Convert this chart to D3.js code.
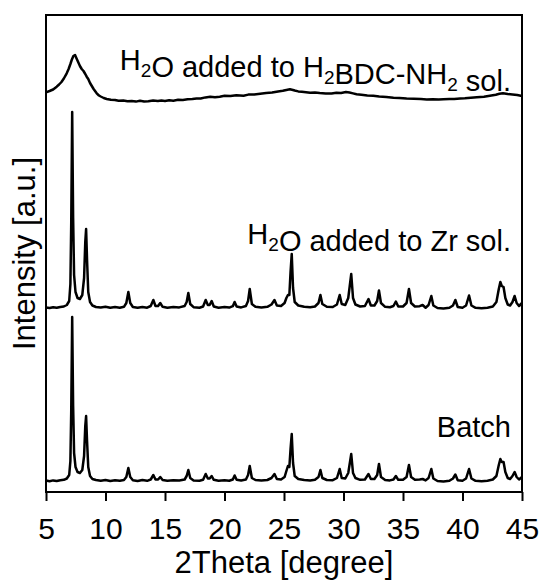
<html>
<head>
  <script src="https://d3js.org/d3.v7.min.js"></script>
  <title>XRD patterns</title>
  <style>
    body { margin: 0; background: #fff; }
    text { font-family: "Liberation Sans", Arial, sans-serif; fill: #000; }
  </style>
</head>
<body>
  <div id="container"></div>
  <script>
    // tick values on the 2Theta axis
    var xTicks = [5, 10, 15, 20, 25, 30, 35, 40, 45];

    // trace labels, bottom to top
    var labels = ["Batch", "H2O added to Zr sol.", "H2O added to H2BDC-NH2 sol."];

    // vertical offset of each trace (a.u.), bottom to top
    var offsets = [11, 184, 390];

    // Batch: [2Theta, intensity]
    var batch = [[5.0,0.5],[5.3,-0.3],[5.6,0.6],[5.9,0],[6.2,0.8],[6.5,1.2],[6.75,2.5],[6.95,6],[7.05,20],[7.12,70],[7.2,164],[7.28,75],[7.36,28],[7.48,14],[7.65,9],[7.85,8],[8.05,11],[8.2,25],[8.3,55],[8.37,65],[8.45,40],[8.55,14],[8.7,5],[8.9,2],[9.2,1],[9.6,0.3],[10.0,1],[10.4,0],[10.8,0.8],[11.2,0.2],[11.55,1],[11.75,4],[11.92,13],[12.08,4],[12.3,0.8],[12.7,0],[13.1,0.9],[13.5,0.2],[13.8,1.5],[14.02,6],[14.2,1.5],[14.42,1.5],[14.6,4],[14.8,1],[15.2,0.2],[15.7,0.8],[16.2,0.5],[16.65,1.5],[16.82,5],[16.96,11],[17.12,3],[17.4,0.6],[17.9,0.2],[18.2,1.2],[18.42,7],[18.6,2.5],[18.75,2.5],[18.92,5],[19.1,1.2],[19.5,0.2],[20.0,0.8],[20.4,0.3],[20.7,1.5],[20.85,5.5],[21.02,1.2],[21.4,0.5],[21.8,1.5],[21.98,6],[22.12,15],[22.3,3],[22.6,1],[23.1,0.4],[23.6,1],[23.95,3],[24.2,7],[24.4,2],[24.75,1.5],[25.05,4],[25.2,10],[25.33,15],[25.45,14],[25.55,32],[25.65,47],[25.76,18],[25.9,5],[26.2,2],[26.7,1],[27.2,0.6],[27.6,1.2],[27.9,4],[28.06,11],[28.22,3],[28.6,1],[29.1,0.8],[29.45,3],[29.68,12],[29.85,3],[30.15,2.5],[30.4,8],[30.65,27],[30.8,8],[31.0,3],[31.4,1.2],[31.8,1.5],[32.1,7],[32.3,2],[32.6,2],[32.83,6],[32.98,17],[33.15,4],[33.5,1],[33.9,0.6],[34.2,1.5],[34.4,5],[34.6,1.2],[35.0,1.2],[35.3,4],[35.5,16],[35.68,4],[36.0,1.2],[36.4,1.5],[36.65,2],[36.9,0.6],[37.15,3],[37.38,12],[37.55,2.5],[37.9,0],[38.4,-0.5],[38.9,0.2],[39.2,2.5],[39.4,6.5],[39.6,0.8],[40.0,0.3],[40.3,2.5],[40.55,12],[40.75,2.5],[41.1,0.2],[41.6,-0.3],[42.1,0.3],[42.55,1.5],[42.85,5],[43.05,16],[43.18,22],[43.3,19],[43.45,19],[43.6,9],[43.8,3],[44.0,2],[44.2,5],[44.38,9],[44.55,4],[44.75,1.5],[45.0,4]];

    // H2O added to Zr sol.
    var zrSol = [[5.0,0.5],[5.3,0],[5.6,0.8],[5.9,0.2],[6.2,1],[6.5,1.5],[6.75,3],[6.95,7],[7.05,24],[7.12,85],[7.2,196],[7.28,90],[7.36,33],[7.48,16],[7.65,10],[7.85,9],[8.05,13],[8.2,30],[8.3,66],[8.37,79],[8.45,48],[8.55,16],[8.7,6],[8.9,2.5],[9.2,1],[9.6,0.4],[10.0,1.2],[10.4,0.2],[10.8,1],[11.2,0.3],[11.55,1.2],[11.75,5],[11.92,16],[12.08,5],[12.3,1],[12.7,0.2],[13.1,1],[13.5,0.3],[13.8,2],[14.02,8],[14.2,2],[14.42,2],[14.6,5],[14.8,1.2],[15.2,0.3],[15.7,1],[16.2,0.6],[16.65,2],[16.82,6],[16.96,15],[17.12,4],[17.4,0.8],[17.9,0.3],[18.2,1.5],[18.42,8],[18.6,3],[18.75,3],[18.92,7],[19.1,1.5],[19.5,0.3],[20.0,1],[20.4,0.4],[20.7,1.8],[20.85,6],[21.02,1.5],[21.4,0.6],[21.8,2],[21.98,7],[22.12,19],[22.3,4],[22.6,1.2],[23.1,0.5],[23.6,1.2],[23.95,3.5],[24.2,8],[24.4,2.5],[24.75,2],[25.05,5],[25.2,10],[25.33,13],[25.45,13],[25.55,36],[25.65,54],[25.76,20],[25.9,6],[26.2,2.5],[26.7,1.2],[27.2,0.8],[27.6,1.5],[27.9,5],[28.06,13],[28.22,4],[28.6,1.2],[29.1,1],[29.45,3.5],[29.68,13],[29.85,4],[30.15,3],[30.4,10],[30.65,34],[30.8,10],[31.0,3.5],[31.4,1.5],[31.8,2],[32.1,9],[32.3,2.5],[32.6,2.5],[32.83,7],[32.98,17.5],[33.15,5],[33.5,1.2],[33.9,0.8],[34.2,2],[34.4,6.5],[34.6,1.5],[35.0,1.5],[35.3,5],[35.5,19],[35.68,5],[36.0,1.5],[36.4,1.8],[36.65,3],[36.9,0.3],[37.15,3],[37.38,12],[37.55,2.5],[37.9,0],[38.4,-0.6],[38.9,0.2],[39.2,2.5],[39.4,8],[39.6,1],[40.0,0.3],[40.3,2.5],[40.55,12.5],[40.75,2.5],[41.1,0.2],[41.6,-0.3],[42.1,0.3],[42.55,1.5],[42.85,6],[43.05,19],[43.18,26],[43.3,22],[43.45,21],[43.6,10],[43.8,3.5],[44.0,2.5],[44.2,6],[44.38,12],[44.55,5],[44.75,2],[45.0,5]];

    // H2O added to H2BDC-NH2 sol.
    var bdcSol = [[5.0,9.7],[5.3,11],[5.6,12.5],[5.9,15.3],[6.1,17.5],[6.3,20],[6.5,23.5],[6.74,28.7],[6.9,33],[7.05,38],[7.16,42],[7.3,46],[7.44,47],[7.55,44],[7.7,40],[7.85,36],[8.0,33],[8.15,31],[8.3,28],[8.42,25.3],[8.55,23],[8.7,19],[8.85,16],[9.0,13],[9.26,8.7],[9.45,6.5],[9.6,5.5],[9.85,4],[10.1,3],[10.45,2.2],[10.8,2],[11.1,1.2],[11.5,1.5],[11.85,0.8],[12.2,1],[12.55,0.4],[12.9,1.3],[13.25,0.6],[13.6,0.7],[14.0,1.4],[14.4,0.9],[14.7,1.5],[15.0,1],[15.35,1.8],[15.7,1.3],[16.1,2.2],[16.5,2],[16.9,2.8],[17.3,3],[17.65,3.6],[18.0,3.5],[18.4,4.6],[18.8,5.3],[19.2,4.8],[19.6,5.3],[20.0,6.2],[20.5,6],[21.0,6.8],[21.6,6.3],[22.0,7.4],[22.5,7.5],[23.0,8.2],[23.5,9],[24.0,9.4],[24.5,10.5],[24.9,11.2],[25.2,12],[25.5,12.7],[25.75,12],[25.9,11.5],[26.2,10.6],[26.5,10.2],[26.85,9.8],[27.2,9.3],[27.6,9.6],[28.0,9],[28.5,8.6],[29.0,8.5],[29.4,9.2],[29.8,9],[30.2,10],[30.5,9.5],[30.8,8.6],[31.1,7.7],[31.5,7.2],[32.0,6.5],[32.5,6.2],[33.0,5.5],[33.6,5],[34.2,4.3],[34.7,4.1],[35.3,3.5],[35.9,3.3],[36.5,3],[37.0,2.6],[37.5,2.7],[38.0,2.4],[38.4,2.7],[38.9,3.1],[39.3,3],[39.8,3.6],[40.2,3.7],[40.7,4.2],[41.2,4.7],[41.8,5.2],[42.3,6.2],[42.8,7.2],[43.1,8.2],[43.4,8.7],[43.8,8],[44.2,7.5],[44.6,7],[45.0,6]];

    var traces = [batch, zrSol, bdcSol];

    var width = 542, height = 581;
    var margin = {left: 46, right: 20, top: 15, bottom: 89};

    var svg = d3.select("#container")
      .append("svg")
      .attr("width", width)
      .attr("height", height);

    var x = d3.scaleLinear()
      .domain([5, 45])
      .range([margin.left, width - margin.right]);
    var y = d3.scaleLinear()
      .domain([0, 477])
      .range([height - margin.bottom, margin.top]);

    var line = d3.line()
      .x(function(d){ return x(d[0]); })
      .y(function(d){ return y(d[1]); });

    // traces
    traces.forEach(function(t, i){
      svg.append("path")
        .datum(t.map(function(d){ return [d[0], d[1] + offsets[i]]; }))
        .attr("d", line)
        .attr("fill", "none")
        .attr("stroke", "#000")
        .attr("stroke-width", 2.5)
        .attr("stroke-linejoin", "round");
    });

    // frame
    svg.append("rect")
      .attr("x", x(5))
      .attr("y", y(477))
      .attr("width", x(45) - x(5))
      .attr("height", y(0) - y(477))
      .attr("fill", "none")
      .attr("stroke", "#000")
      .attr("stroke-width", 2);

    // bottom axis
    var xAxis = svg.append("g")
      .attr("transform", "translate(0," + y(0) + ")")
      .call(d3.axisBottom(x).tickValues(xTicks).tickSize(9).tickPadding(17).tickFormat(d3.format("d")));
    xAxis.select(".domain").remove();
    xAxis.selectAll("line").attr("stroke-width", 2);
    xAxis.selectAll("text")
      .style("font-family", "'Liberation Sans', Arial, sans-serif")
      .style("font-size", "30px");

    svg.append("text")
      .attr("x", (x(5) + x(45)) / 2)
      .attr("y", 573)
      .attr("text-anchor", "middle")
      .style("font-size", "31px")
      .text("2Theta [degree]");

    svg.append("text")
      .attr("transform", "translate(35," + ((y(0) + y(477)) / 2) + ") rotate(-90)")
      .attr("text-anchor", "middle")
      .style("font-size", "31px")
      .text("Intensity [a.u.]");

    // trace labels with subscripts
    var labelY = [437, 244, 70];
    labels.forEach(function(s, i){
      var t = svg.append("text")
        .attr("x", 511)
        .attr("y", labelY[i])
        .attr("text-anchor", "end")
        .style("font-size", "29px");
      var parts = s.split(/(?<=H)(2)/);
      parts.forEach(function(p){
        if (p === "2") {
          t.append("tspan").attr("dy", 7).style("font-size", "19px").text("2");
          t.append("tspan").attr("dy", -7).text("");
        } else {
          t.append("tspan").text(p);
        }
      });
    });
  </script>
</body>
</html>
